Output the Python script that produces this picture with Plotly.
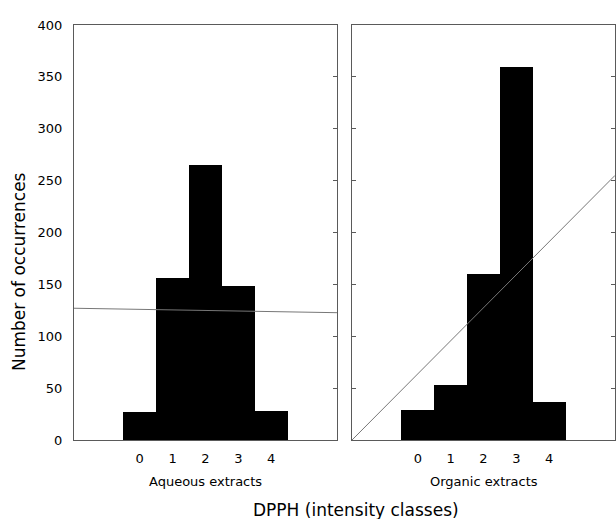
import plotly.graph_objects as go

classes = [0, 1, 2, 3, 4]
class_labels = ["0", "1", "2", "3", "4"]
aqueous_counts = [27, 156, 265, 148, 28]
organic_counts = [29, 53, 160, 360, 37]
aqueous_trend_x = [-2, 6]
aqueous_trend_y = [127, 122.7]
organic_trend_x = [-2, 6]
organic_trend_y = [0, 255]
y_ticks = [0, 50, 100, 150, 200, 250, 300, 350, 400]

FONT = "DejaVu Sans"
AX = "#5a5a5a"
TXT = "#000000"

fig = go.Figure()
fig.add_trace(go.Bar(x=classes, y=aqueous_counts, width=1, marker=dict(color="black", line=dict(width=0)),
                     xaxis="x", yaxis="y", showlegend=False))
fig.add_trace(go.Scatter(x=aqueous_trend_x, y=aqueous_trend_y, mode="lines",
                         line=dict(color="#777777", width=1), xaxis="x", yaxis="y", showlegend=False))
fig.add_trace(go.Bar(x=classes, y=organic_counts, width=1, marker=dict(color="black", line=dict(width=0)),
                     xaxis="x2", yaxis="y2", showlegend=False))
fig.add_trace(go.Scatter(x=organic_trend_x, y=organic_trend_y, mode="lines",
                         line=dict(color="#777777", width=1), xaxis="x2", yaxis="y2", showlegend=False))

xcommon = dict(range=[-2, 6], tickvals=classes, ticktext=class_labels, showline=True, mirror=True,
               linecolor=AX, linewidth=1, ticks="", showgrid=False, zeroline=False, ticklabelstandoff=6,
               tickfont=dict(family=FONT, size=13, color=TXT))
ycommon = dict(range=[0, 400], tickvals=y_ticks, showgrid=False, zeroline=False)

fig.update_layout(
    width=616, height=519,
    margin=dict(l=74, r=1, t=25, b=79),
    paper_bgcolor="white", plot_bgcolor="white",
    font=dict(family=FONT, color=TXT),
    xaxis=dict(domain=[0, 0.4861], anchor="y", **xcommon),
    xaxis2=dict(domain=[0.5139, 1], anchor="y2", **xcommon),
    yaxis=dict(domain=[0, 1], anchor="x", showline=True, mirror=True, linecolor=AX, linewidth=1,
               ticks="", ticklabelstandoff=8, tickfont=dict(family=FONT, size=13, color=TXT), **ycommon),
    yaxis3=dict(overlaying="y", anchor="x", side="right", ticks="inside", ticklen=4, tickcolor=AX,
                showticklabels=False, showline=False, **ycommon),
    yaxis2=dict(domain=[0, 1], anchor="x2", showline=True, mirror="ticks", linecolor=AX, linewidth=1,
                ticks="inside", ticklen=4, tickcolor=AX, showticklabels=False, **ycommon),
    bargap=0,
)
# dummy trace to activate yaxis3
fig.add_trace(go.Scatter(x=[None], y=[None], xaxis="x", yaxis="y3", showlegend=False, hoverinfo="skip"))

fig.add_annotation(text="Aqueous extracts", xref="x", x=2, yref="paper", y=-0.101, showarrow=False,
                   font=dict(family=FONT, size=13, color=TXT), yanchor="middle")
fig.add_annotation(text="Organic extracts", xref="x2", x=2, yref="paper", y=-0.101, showarrow=False,
                   font=dict(family=FONT, size=13, color=TXT), yanchor="middle")
fig.add_annotation(text="DPPH (intensity classes)", xref="paper", x=0.521, yref="paper", y=-0.169,
                   showarrow=False, font=dict(family=FONT, size=17, color=TXT), yanchor="middle")
fig.add_annotation(text="Number of occurrences", xref="paper", x=-0.1017, yref="paper", y=0.407,
                   textangle=-90, showarrow=False, font=dict(family=FONT, size=17, color=TXT),
                   xanchor="center", yanchor="middle")

fig.write_html("out.html", config={"displayModeBar": False},
               post_script="document.body.style.margin='0';document.body.style.overflow='hidden';")
